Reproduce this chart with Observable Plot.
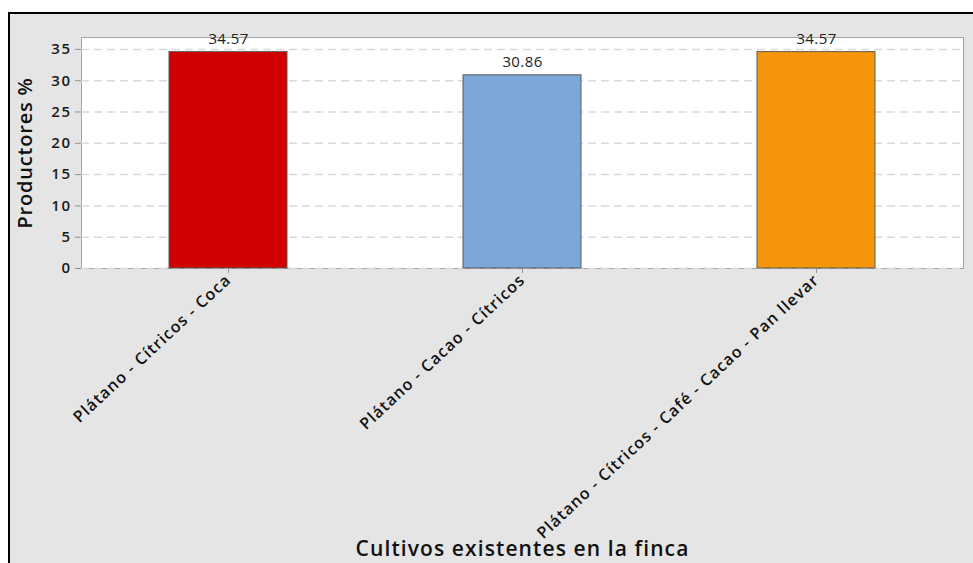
<!DOCTYPE html>
<html><head><meta charset="utf-8">
<script src="https://cdn.jsdelivr.net/npm/d3@7"></script>
<script src="https://cdn.jsdelivr.net/npm/@observablehq/plot@0.6"></script>
<style>
body{margin:0;background:#fff;width:973px;height:563px;overflow:hidden;position:relative}
#bg{position:absolute;left:8px;top:12px;width:980px;height:560px;border-left:2px solid #000;border-top:2px solid #000;background:#e5e5e5}
#chart{position:absolute;left:0;top:0}
#chart g[aria-label="x-axis tick label"] text{letter-spacing:1.1px}
#chart g[aria-label="y-axis tick label"] text{letter-spacing:1.5px}
#chart g.ytitle text{letter-spacing:0.8px}
#chart g.xtitle text{letter-spacing:1.1px}
#chart g.vlabel text{letter-spacing:0.4px}
</style></head><body><div id="bg"></div><div id="chart"></div>
<script>
const categories = ["Plátano - Cítricos - Coca", "Plátano - Cacao - Cítricos", "Plátano - Cítricos - Café - Cacao - Pan llevar"];
const values = [34.57, 30.86, 34.57];
const colors = ["#d00000", "#7ba7d9", "#f5960a"];
const yTicks = [0, 5, 10, 15, 20, 25, 30, 35];
const xTitle = "Cultivos existentes en la finca";
const yTitle = "Productores %";

const data = categories.map((c, i) => ({cat: c, value: values[i], color: colors[i]}));

const plot = Plot.plot({
  width: 973, height: 563,
  marginLeft: 81, marginTop: 37, marginRight: 10, marginBottom: 295,
  style: {background: "transparent", fontFamily: "'Open Sans', 'Noto Sans', sans-serif", color: "#1a1a1a"},
  x: {domain: categories, paddingInner: 0.6, paddingOuter: 0.3, label: null},
  y: {domain: [0, 36.9], label: null},
  marks: [
    Plot.frame({fill: "white", stroke: "#a6a6a6"}),
    Plot.ruleY(yTicks, {stroke: "#d9d9d9", strokeWidth: 1.5, strokeDasharray: "8,5"}),
    Plot.barY(data, {x: "cat", y: "value", fill: "color", stroke: "#5a5a5a", strokeWidth: 1}),
    Plot.text(data, {x: "cat", y: "value", text: d => d.value.toFixed(2), lineAnchor: "bottom", dy: -8, fontSize: 15, fill: "#222", className: "vlabel"}),
    Plot.axisY({ticks: yTicks, tickSize: 6, tickPadding: 4, label: null, fontSize: 15, fontWeight: 600, stroke: "#909090", fill: "#1a1a1a"}),
    Plot.axisX({tickRotate: -43, tickSize: 5, tickPadding: 4, label: null, fontSize: 16, fontWeight: 600, stroke: "#909090", fill: "#111"}),
    Plot.text([yTitle], {text: d => d, frameAnchor: "left", dx: -56, rotate: -90, textAnchor: "middle", fontSize: 20, fontWeight: 600, fill: "#111", className: "ytitle"}),
    Plot.text([xTitle], {text: d => d, frameAnchor: "bottom", dy: 281, lineAnchor: "middle", fontSize: 21, fontWeight: 600, fill: "#111", className: "xtitle"})
  ]
});
document.getElementById("chart").appendChild(plot);
</script>
</body></html>
